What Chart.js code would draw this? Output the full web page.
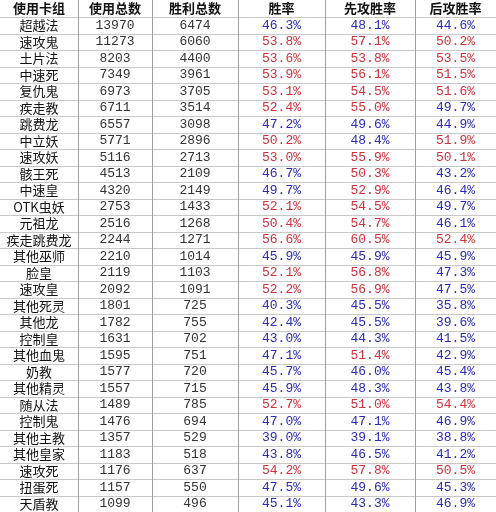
<!DOCTYPE html>
<html>
<head>
<meta charset="utf-8">
<script src="https://cdn.jsdelivr.net/npm/chart.js@4"></script>
<style>
  html, body { margin: 0; padding: 0; background: #fff; }
  #wrap { width: 496px; height: 512px; }
</style>
</head>
<body>
<div id="wrap"><canvas id="c"></canvas></div>
<script>
// table data
const headers = ["使用卡组", "使用总数", "胜利总数", "胜率", "先攻胜率", "后攻胜率"];
const decks = ["超越法", "速攻鬼", "土片法", "中速死", "复仇鬼", "疾走教", "跳费龙", "中立妖", "速攻妖", "骸王死",
  "中速皇", "OTK虫妖", "元祖龙", "疾走跳费龙", "其他巫师", "脸皇", "速攻皇", "其他死灵", "其他龙", "控制皇",
  "其他血鬼", "奶教", "其他精灵", "随从法", "控制鬼", "其他主教", "其他皇家", "速攻死", "扭蛋死", "天盾教"];
const played = [13970, 11273, 8203, 7349, 6973, 6711, 6557, 5771, 5116, 4513,
  4320, 2753, 2516, 2244, 2210, 2119, 2092, 1801, 1782, 1631,
  1595, 1577, 1557, 1489, 1476, 1357, 1183, 1176, 1157, 1099];
const wins = [6474, 6060, 4400, 3961, 3705, 3514, 3098, 2896, 2713, 2109,
  2149, 1433, 1268, 1271, 1014, 1103, 1091, 725, 755, 702,
  751, 720, 715, 785, 694, 529, 518, 637, 550, 496];
const winRate = [46.3, 53.8, 53.6, 53.9, 53.1, 52.4, 47.2, 50.2, 53.0, 46.7,
  49.7, 52.1, 50.4, 56.6, 45.9, 52.1, 52.2, 40.3, 42.4, 43.0,
  47.1, 45.7, 45.9, 52.7, 47.0, 39.0, 43.8, 54.2, 47.5, 45.1];
const firstRate = [48.1, 57.1, 53.8, 56.1, 54.5, 55.0, 49.6, 48.4, 55.9, 50.3,
  52.9, 54.5, 54.7, 60.5, 45.9, 56.8, 56.9, 45.5, 45.5, 44.3,
  51.4, 46.0, 48.3, 51.0, 47.1, 39.1, 46.5, 57.8, 49.6, 43.3];
const secondRate = [44.6, 50.2, 53.5, 51.5, 51.6, 49.7, 44.9, 51.9, 50.1, 43.2,
  46.4, 49.7, 46.1, 52.4, 45.9, 47.3, 47.5, 35.8, 39.6, 41.5,
  42.9, 45.4, 43.8, 54.4, 46.9, 38.8, 41.2, 50.5, 45.3, 46.9];

// layout
const colEdges = [0, 78, 152, 238, 325, 415, 496];
const headerH = 17;
const rowH = 16.5;

const tablePlugin = {
  id: "table",
  afterDraw(chart) {
    const ctx = chart.ctx;
    const x = chart.scales.x, y = chart.scales.y;
    const px = v => x.getPixelForValue(v);
    const py = v => y.getPixelForValue(v);
    const rowTop = i => i === 0 ? 0 : headerH + (i - 1) * rowH;
    const nRows = decks.length + 1;

    ctx.save();
    // grid
    ctx.strokeStyle = "#c8c8c8";
    ctx.lineWidth = 1;
    for (let i = 1; i <= nRows; i++) {
      const yy = Math.round(py(rowTop(i))) + 0.5;
      ctx.beginPath(); ctx.moveTo(px(0), yy); ctx.lineTo(px(496), yy); ctx.stroke();
    }
    ctx.strokeStyle = "#a0a0a0";
    colEdges.slice(1, -1).forEach(e => {
      const xx = Math.round(px(e)) + 0.5;
      ctx.beginPath(); ctx.moveTo(xx, py(0)); ctx.lineTo(xx, py(512)); ctx.stroke();
    });

    ctx.textAlign = "center";
    ctx.textBaseline = "middle";
    const mid = c => px((colEdges[c] + colEdges[c + 1]) / 2);
    // header
    ctx.fillStyle = "#111";
    ctx.font = "bold 13px 'Noto Sans CJK SC'";
    headers.forEach((h, c) => ctx.fillText(h, mid(c), py(headerH / 2)));
    // rows
    const rateCol = v => v >= 50 ? "#d0303a" : "#2b2bb8";
    decks.forEach((d, i) => {
      const yc = py(rowTop(i + 1) + rowH / 2);
      ctx.font = "13px 'Noto Sans CJK SC'";
      ctx.fillStyle = "#111";
      ctx.fillText(d, mid(0), yc);
      ctx.font = "13px 'Liberation Mono'";
      ctx.fillStyle = "#333";
      ctx.fillText(String(played[i]), mid(1), yc);
      ctx.fillText(String(wins[i]), mid(2), yc);
      [winRate, firstRate, secondRate].forEach((arr, k) => {
        ctx.fillStyle = rateCol(arr[i]);
        ctx.fillText(arr[i].toFixed(1) + "%", mid(3 + k), yc);
      });
    });
    ctx.restore();
  }
};

new Chart(document.getElementById("c"), {
  type: "scatter",
  data: { datasets: [{ data: [] }] },
  options: {
    responsive: true,
    maintainAspectRatio: false,
    animation: false,
    layout: { padding: 0 },
    plugins: { legend: { display: false }, tooltip: { enabled: false } },
    scales: {
      x: { type: "linear", min: 0, max: 496, display: false },
      y: { type: "linear", min: 0, max: 512, reverse: true, display: false }
    }
  },
  plugins: [tablePlugin]
});
</script>
</body>
</html>
